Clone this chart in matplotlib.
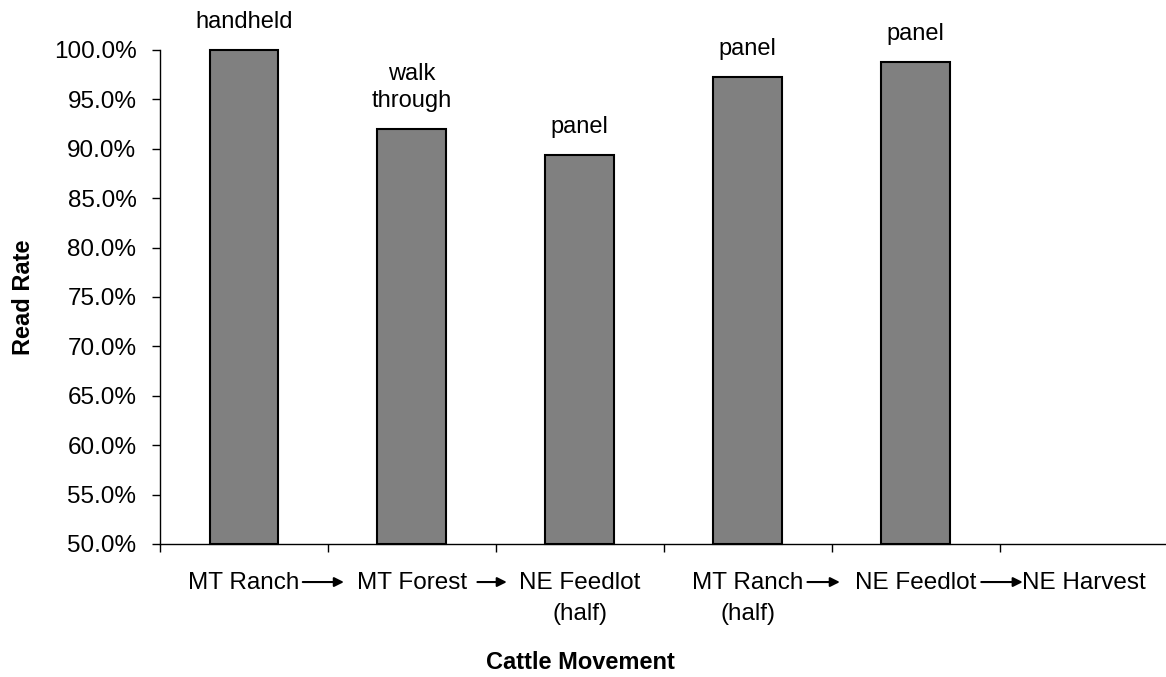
import numpy as np
import matplotlib
matplotlib.use("Agg")
import matplotlib.pyplot as plt
from matplotlib.ticker import FuncFormatter, FixedLocator

plt.rcParams['font.family'] = ['Liberation Sans', 'DejaVu Sans']

# data
stops = ['MT Ranch', 'MT Forest', 'NE Feedlot\n(half)', 'MT Ranch\n(half)', 'NE Feedlot', 'NE Harvest']
read_rate = [100.0, 92.0, 89.4, 97.3, 98.8]
reader = ['handheld', 'walk\nthrough', 'panel', 'panel', 'panel']

y_min, y_max = 50, 100

fig = plt.figure(figsize=(11.66, 6.77), dpi=100)
ax = fig.add_axes([160/1166, 1 - 544/677, 1006/1166, 494/677])

x = np.arange(len(read_rate))
heights = np.array(read_rate) - y_min
bars = ax.bar(x, heights, bottom=y_min, width=0.41, color='#808080',
              edgecolor='black', linewidth=1.5, clip_on=False, zorder=3)

for b, v, lab in zip(bars, read_rate, reader):
    ax.annotate(lab, (b.get_x() + b.get_width()/2, v),
                xytext=(0, 12), textcoords='offset points',
                ha='center', va='bottom', fontsize=17, linespacing=1.3)

ax.set_xlim(-0.5, len(stops) - 0.51)
ax.set_ylim(y_min, y_max)
ax.set_yticks(np.arange(y_min, y_max + 0.1, 5))
ax.yaxis.set_major_formatter(FuncFormatter(lambda v, p: f'{v:.1f}%'))
ax.tick_params(axis='y', labelsize=17.5, length=6, width=1, pad=11)

# tick marks between categories, labels at category centres
ax.xaxis.set_major_locator(FixedLocator(np.arange(-0.5, len(stops) - 0.5, 1)))
ax.xaxis.set_minor_locator(FixedLocator(np.arange(len(stops))))
ax.set_xticklabels([''] * len(stops))
ax.set_xticklabels(stops, minor=True)
ax.tick_params(axis='x', which='major', length=6, width=1)
ax.tick_params(axis='x', which='minor', length=0, labelsize=17.5, pad=20)
for t in ax.xaxis.get_minorticklabels():
    t.set_linespacing(1.55)

for spine in ['top', 'right']:
    ax.spines[spine].set_visible(False)
for spine in ['left', 'bottom']:
    ax.spines[spine].set_linewidth(1)

# arrows between the stops
trans = ax.get_xaxis_transform()
for x0, x1 in [(0.35, 0.595), (1.39, 1.565), (3.355, 3.548), (4.39, 4.637)]:
    ax.annotate('', xy=(x1, -0.077), xytext=(x0, -0.077), xycoords=trans,
                textcoords=trans, annotation_clip=False,
                arrowprops=dict(arrowstyle='-|>', color='black', lw=1.5,
                                mutation_scale=14, shrinkA=0, shrinkB=0))

ax.set_ylabel('Read Rate', fontsize=17, fontweight='bold')
ax.yaxis.set_label_coords(-125/1006, 0.5)
ax.set_xlabel('Cattle Movement', fontsize=17, fontweight='bold')
ax.xaxis.set_label_coords(420/1006, -107/494)

fig.savefig('out.png', dpi=100)
